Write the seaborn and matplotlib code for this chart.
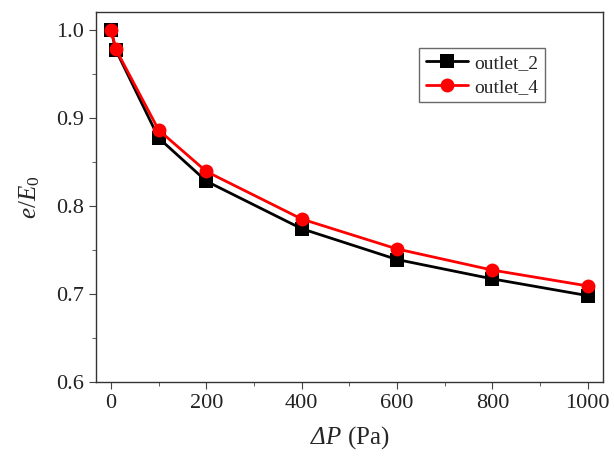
import matplotlib
matplotlib.use('Agg')
import matplotlib.pyplot as plt
from matplotlib.ticker import MultipleLocator
import numpy as np
import pandas as pd
import seaborn as sns

# pressure drop (Pa) and normalised e/E0 for the two outlets
dp = [0, 10, 100, 200, 400, 600, 800, 1000]
outlet_2 = [1.000, 0.977, 0.877, 0.828, 0.774, 0.739, 0.717, 0.698]
outlet_4 = [1.000, 0.978, 0.886, 0.839, 0.785, 0.751, 0.727, 0.709]
names = ['outlet_2', 'outlet_4']

df = pd.DataFrame({
    'dp': dp * 2,
    'ratio': outlet_2 + outlet_4,
    'outlet': [names[0]] * len(dp) + [names[1]] * len(dp),
})

sns.set_style('ticks')
plt.rcParams['font.family'] = ['Liberation Serif', 'DejaVu Serif']
plt.rcParams['mathtext.fontset'] = 'custom'
plt.rcParams['mathtext.rm'] = 'Liberation Serif'
plt.rcParams['mathtext.it'] = 'Liberation Serif:italic'
# italic slot for the capital delta (mathtext forces Greek capitals upright in \mathit)
plt.rcParams['mathtext.cal'] = 'Liberation Serif:italic'

fig = plt.figure(figsize=(6.14, 4.68), dpi=100)
ax = fig.add_axes([0.156, 0.184, 0.826, 0.790])

sns.lineplot(data=df, x='dp', y='ratio', hue='outlet', style='outlet',
             markers={'outlet_2': 's', 'outlet_4': 'o'}, dashes=False,
             palette={'outlet_2': 'black', 'outlet_4': 'red'},
             markersize=10, markeredgewidth=0, linewidth=2, ax=ax)

ax.set_xlim(-32, 1032)
ax.set_ylim(0.6, 1.02)
ax.xaxis.set_major_locator(MultipleLocator(200))
ax.xaxis.set_minor_locator(MultipleLocator(100))
ax.yaxis.set_major_locator(MultipleLocator(0.1))
ax.yaxis.set_minor_locator(MultipleLocator(0.05))
ax.tick_params(which='both', direction='out', labelsize=16, color='#444444',
               labelcolor='#222222')
ax.tick_params(which='major', length=5)
ax.tick_params(which='minor', length=3)
for s in ax.spines.values():
    s.set_color('#333333')
    s.set_linewidth(1)

ax.set_xlabel(r'$\mathcal{\Delta}\mathit{P}$ (Pa)', fontsize=18, labelpad=8)
ax.set_ylabel(r'$e/E_0$', fontsize=18, labelpad=10)

leg = ax.legend(loc='upper right', bbox_to_anchor=(0.905, 0.93), fontsize=14,
                frameon=True, fancybox=False, edgecolor='#444444',
                handlelength=2.2, borderpad=0.35, labelspacing=0.3,
                handletextpad=0.3)
leg.get_frame().set_linewidth(1)

fig.savefig('out.png', dpi=100)
